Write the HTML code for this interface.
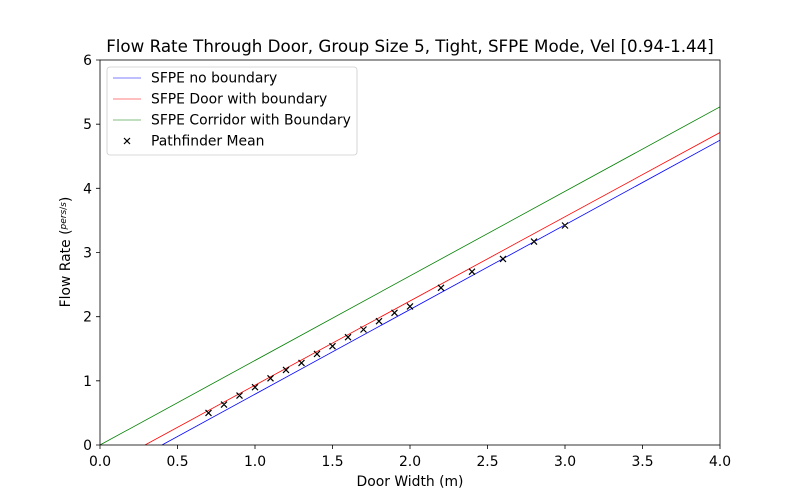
<!DOCTYPE html>
<html><head><style>body{margin:0;background:#fff}svg{display:block}text{font-family:"DejaVu Sans","Liberation Sans",sans-serif;fill:#000}</style></head><body>
<svg width="800" height="500" xmlns="http://www.w3.org/2000/svg">
<rect width="800" height="500" fill="#fff"/>
<defs><clipPath id="c"><rect x="100" y="60" width="620" height="385"/></clipPath></defs>
<g clip-path="url(#c)" stroke-width="0.8" fill="none">
<line x1="100" y1="445" x2="720" y2="106.8" stroke="green"/>
<line x1="145" y1="445" x2="720" y2="132.5" stroke="red"/>
<line x1="162" y1="445" x2="720" y2="140.2" stroke="blue"/>
</g>
<g stroke="#000" stroke-width="1.2">
<path d="M205.5 409.9l6 6m0-6l-6 6M221 401.6l6 6m0-6l-6 6M236.5 392.6l6 6m0-6l-6 6M252 384.2l6 6m0-6l-6 6M267.5 375.3l6 6m0-6l-6 6M283 366.9l6 6m0-6l-6 6M298.5 359.9l6 6m0-6l-6 6M314 350.9l6 6m0-6l-6 6M329.5 343.2l6 6m0-6l-6 6M345 334.2l6 6m0-6l-6 6M360.5 326.5l6 6m0-6l-6 6M376 318.2l6 6m0-6l-6 6M391.5 309.8l6 6m0-6l-6 6M407 303.4l6 6m0-6l-6 6M438 284.8l6 6m0-6l-6 6M469 268.7l6 6m0-6l-6 6M500 255.9l6 6m0-6l-6 6M531 238.6l6 6m0-6l-6 6M562 222.5l6 6m0-6l-6 6"/>
</g>
<rect x="100" y="60" width="620" height="385" fill="none" stroke="#000" stroke-width="0.8"/>
<g stroke="#000" stroke-width="0.8">
<path d="M100 445v4M177.5 445v4M255 445v4M332.5 445v4M410 445v4M487.5 445v4M565 445v4M642.5 445v4M720 445v4"/>
<path d="M100 445h-4M100 380.8h-4M100 316.7h-4M100 252.5h-4M100 188.3h-4M100 124.2h-4M100 60h-4"/>
</g>
<g font-size="13.9" text-anchor="middle">
<text x="100" y="466">0.0</text><text x="177.5" y="466">0.5</text><text x="255" y="466">1.0</text><text x="332.5" y="466">1.5</text><text x="410" y="466">2.0</text><text x="487.5" y="466">2.5</text><text x="565" y="466">3.0</text><text x="642.5" y="466">3.5</text><text x="720" y="466">4.0</text>
<text x="410" y="486">Door Width (m)</text>
<text x="410" y="52" font-size="16.7">Flow Rate Through Door, Group Size 5, Tight, SFPE Mode, Vel [0.94-1.44]</text>
</g>
<g font-size="13.9" text-anchor="end">
<text x="92" y="450">0</text><text x="92" y="385.8">1</text><text x="92" y="321.7">2</text><text x="92" y="257.5">3</text><text x="92" y="193.3">4</text><text x="92" y="129.2">5</text><text x="92" y="65">6</text>
</g>
<text transform="translate(70 252) rotate(-90)" font-size="13.9" text-anchor="middle">Flow Rate (<tspan font-size="9" dy="-4" font-style="italic">pers</tspan><tspan font-size="9">/</tspan><tspan font-size="9" font-style="italic">s</tspan><tspan dy="4">)</tspan></text>
<rect x="107" y="67" width="250" height="88" rx="3" fill="#fff" stroke="#ccc" stroke-width="0.8"/>
<line x1="113" y1="78" x2="141" y2="78" stroke="blue" stroke-width="0.6"/>
<line x1="113" y1="99" x2="141" y2="99" stroke="red" stroke-width="0.6"/>
<line x1="113" y1="120" x2="141" y2="120" stroke="green" stroke-width="0.6"/>
<path d="M124 138l6 6m0-6l-6 6" stroke="#000" stroke-width="1.2"/>
<g font-size="13.9"><text x="151" y="82.5">SFPE no boundary</text><text x="151" y="103.5">SFPE Door with boundary</text><text x="151" y="124.5">SFPE Corridor with Boundary</text><text x="151" y="145.5">Pathfinder Mean</text></g>
</svg>
</body></html>
